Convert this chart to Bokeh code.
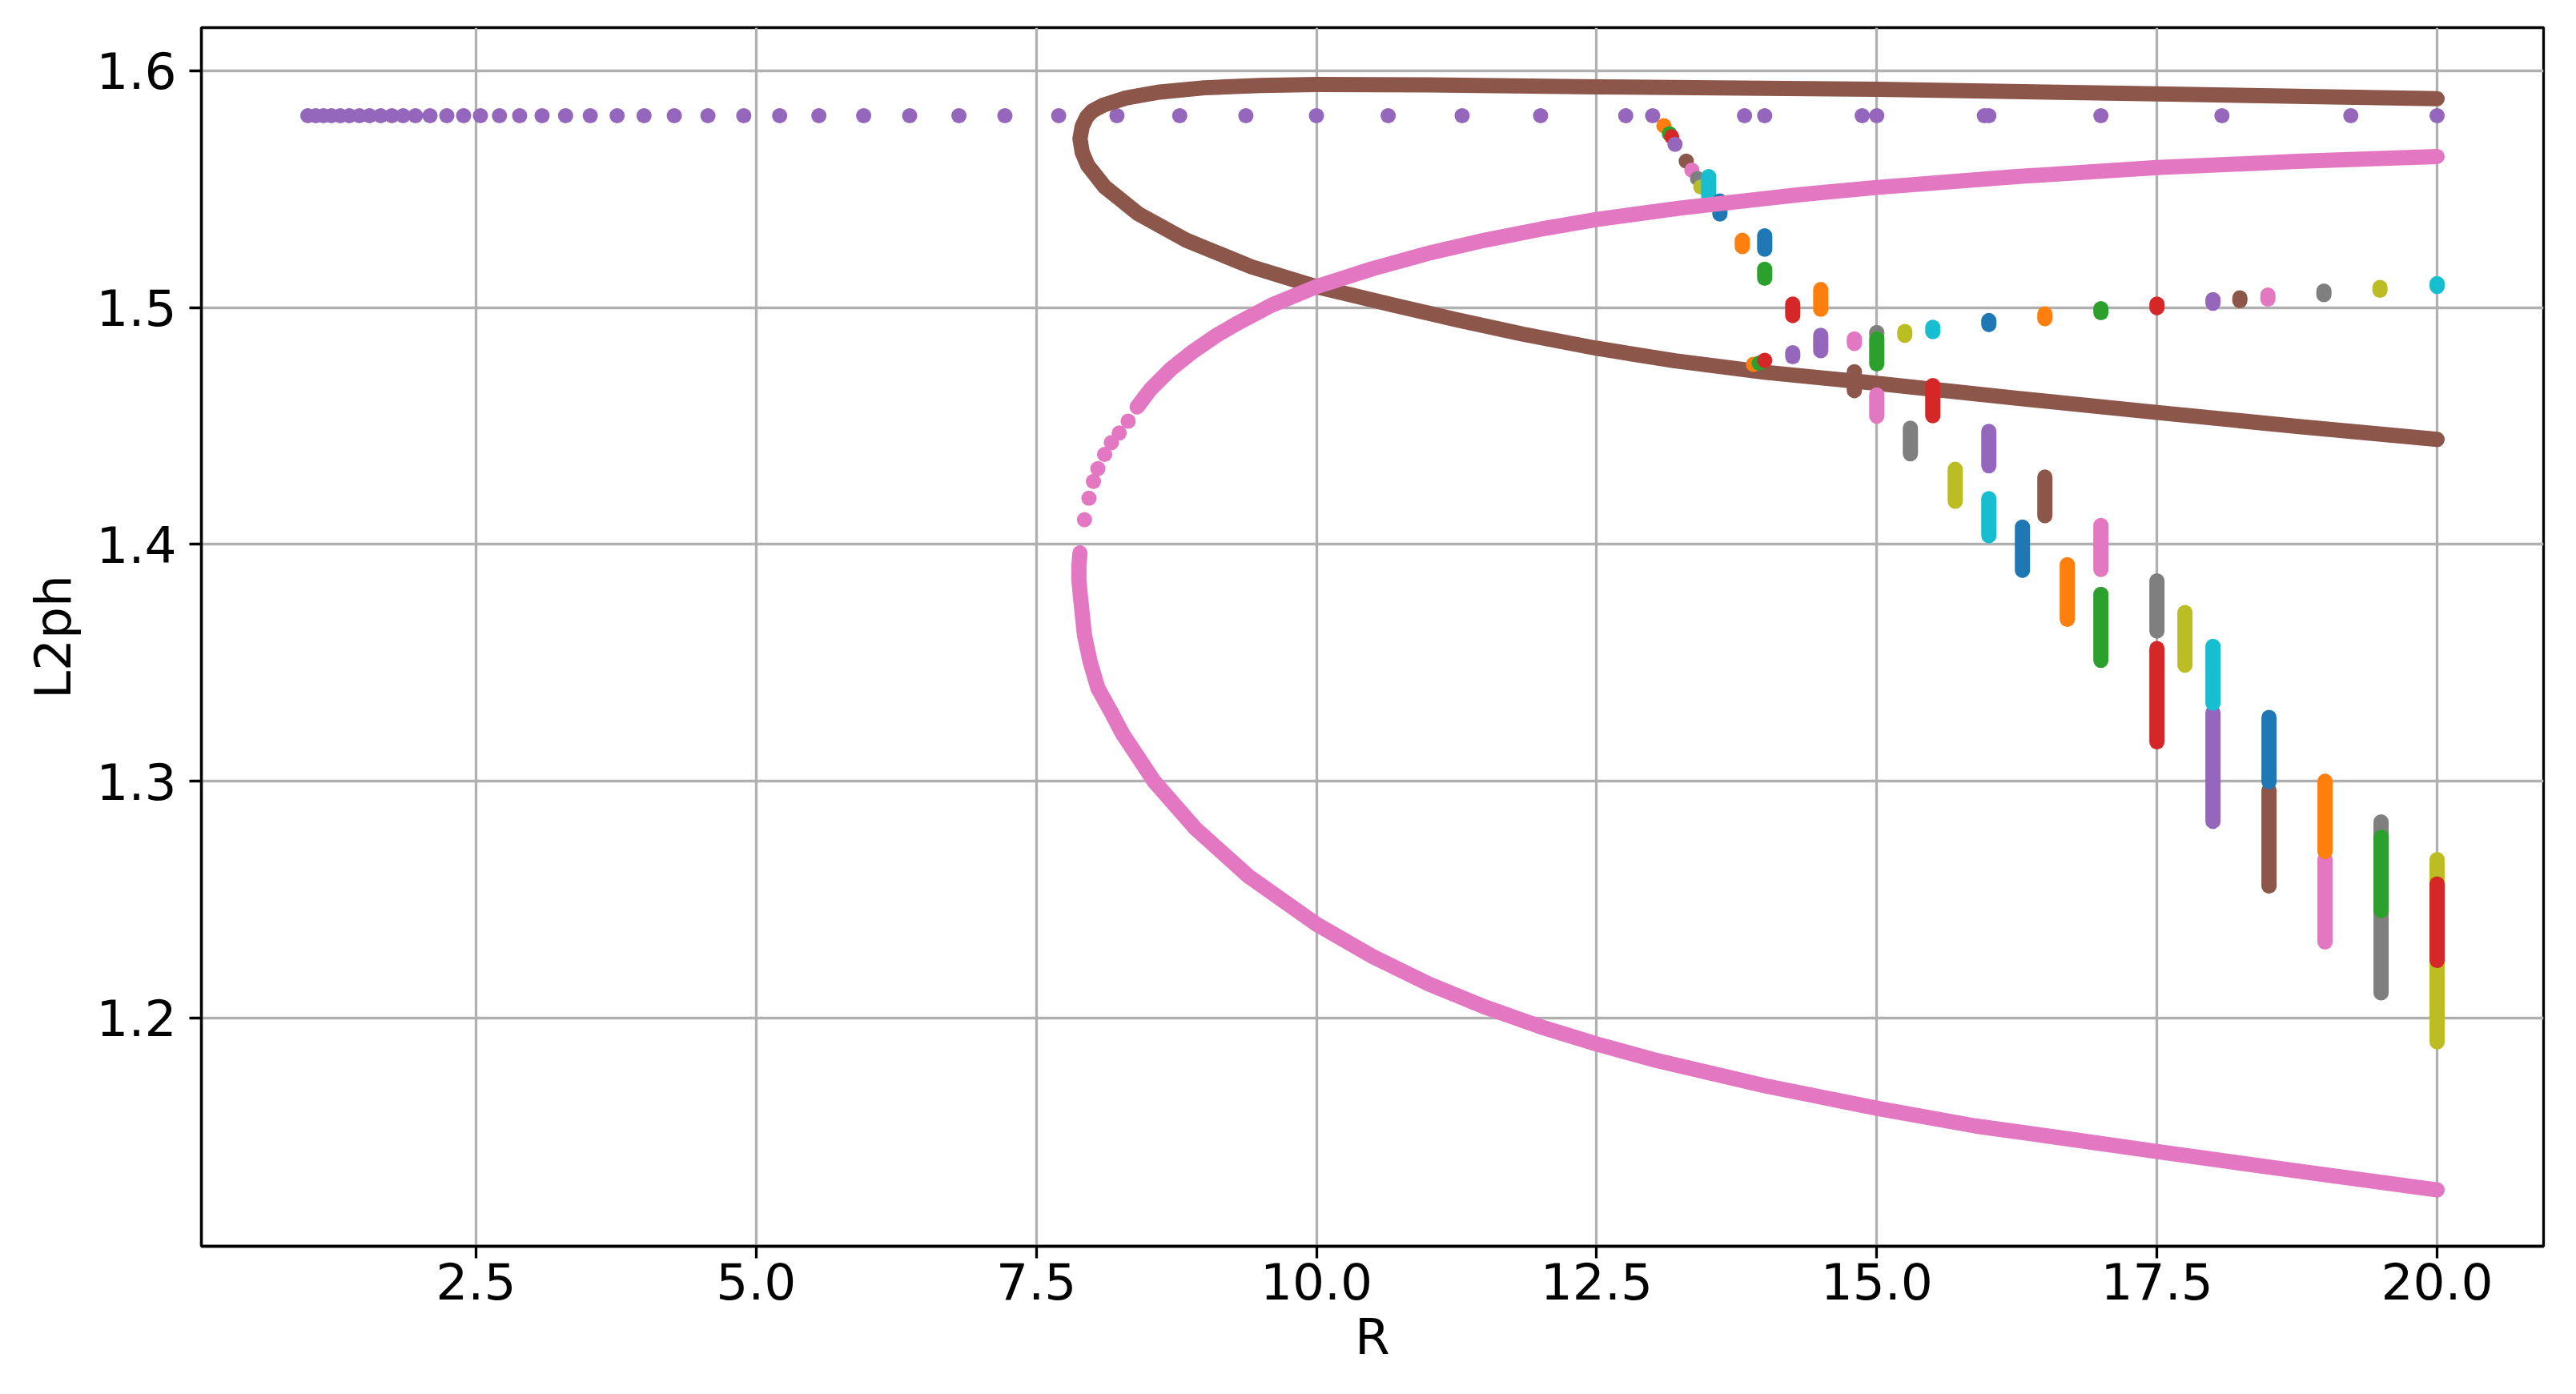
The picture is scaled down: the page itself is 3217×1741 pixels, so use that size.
from bokeh.plotting import figure
from bokeh.models import ColumnDataSource, FixedTicker, NumeralTickFormatter, Range1d
from bokeh.embed import file_html
from bokeh.resources import INLINE

C = {"blue": "#1f77b4", "orange": "#ff7f0e", "green": "#2ca02c", "red": "#d62728",
     "purple": "#9467bd", "brown": "#8c564b", "pink": "#e377c2", "gray": "#7f7f7f",
     "olive": "#bcbd22", "cyan": "#17becf"}

# stable branch (purple row)
row_R = [1.00, 1.07, 1.14, 1.21, 1.29, 1.37, 1.46, 1.55, 1.65, 1.75, 1.85, 1.96,
         2.09, 2.24, 2.39, 2.54, 2.71, 2.89, 3.09, 3.30, 3.52, 3.76, 4.00, 4.27,
         4.57, 4.89, 5.21, 5.56, 5.96, 6.37, 6.81, 7.22, 7.70, 8.22, 8.78, 9.37,
         10.00, 10.64, 11.30, 12.00, 12.76, 13.00, 13.82, 14.00, 14.87, 15.00,
         15.96, 16.00, 17.00, 18.08, 19.23, 20.00]
row_L = [1.581] * len(row_R)

# brown closed-loop branch
brown_R = [20.0, 17.5, 15.0, 12.5, 11.0, 10.0, 9.5, 9.0, 8.6, 8.3, 8.1, 8.0, 7.95,
           7.91, 7.89, 7.91, 7.96, 8.11, 8.41, 8.84, 9.42, 10.0, 10.71, 11.24, 11.84,
           12.5, 13.2, 14.0, 15.0, 16.25, 17.5, 18.75, 20.0]
brown_L = [1.5882, 1.5902, 1.5922, 1.5932, 1.5940, 1.5942, 1.5938, 1.5928, 1.5910,
           1.5885, 1.5855, 1.5830, 1.5805, 1.5765, 1.5713, 1.5655, 1.5600, 1.5510,
           1.5396, 1.5284, 1.5172, 1.5088, 1.5008, 1.4950, 1.4888, 1.4828, 1.4775,
           1.4727, 1.4680, 1.4617, 1.4557, 1.4498, 1.4443]

# pink branch: upper part, sparse points near the turn, lower part
pink_up_R = [20.0, 18.75, 17.5, 16.25, 15.0, 14.34, 13.26, 12.5, 12.0, 11.5, 11.0,
             10.5, 10.0, 9.6, 9.3, 9.1, 8.9, 8.7, 8.52, 8.40]
pink_up_L = [1.5638, 1.5617, 1.5591, 1.5553, 1.5507, 1.5478, 1.5421, 1.5372, 1.5331,
             1.5284, 1.5229, 1.5164, 1.5088, 1.5010, 1.4935, 1.4880, 1.4815, 1.4740,
             1.4655, 1.4580]
pink_sp_R = [8.32, 8.24, 8.17, 8.11, 8.05, 8.01, 7.97, 7.93]
pink_sp_L = [1.452, 1.447, 1.443, 1.438, 1.432, 1.4266, 1.4195, 1.4104]
pink_lo_R = [7.89, 7.88, 7.88, 7.89, 7.91, 7.93, 7.98, 8.05, 8.17, 8.27, 8.55, 8.92,
             9.39, 10.0, 10.5, 11.0, 11.5, 12.0, 12.5, 13.0, 14.0, 15.0, 15.88, 16.7,
             17.5, 18.75, 20.0]
pink_lo_L = [1.3964, 1.3908, 1.3852, 1.3800, 1.3707, 1.3617, 1.3505, 1.3392, 1.3290,
             1.3200, 1.3000, 1.2800, 1.2600, 1.2396, 1.2260, 1.2144, 1.2047, 1.1963,
             1.1890, 1.1825, 1.1714, 1.1619, 1.1544, 1.1490, 1.1436, 1.1354, 1.1274]

# single-point attractors (colour cycle)
dot_R = [13.10, 13.15, 13.17, 13.20, 13.30, 13.35, 13.40, 13.43, 13.90, 13.95, 14.00]
dot_L = [1.5768, 1.5734, 1.5721, 1.5689, 1.5618, 1.5580, 1.5545, 1.5509, 1.4760,
         1.4765, 1.4777]
dot_c = ["orange", "green", "red", "purple", "brown", "pink", "gray", "olive",
         "orange", "green", "red"]

# vertical spreads of the periodic / chaotic attractors
bar_R = [13.50, 13.60, 13.80, 14.00, 14.00, 14.25, 14.50, 14.25, 14.50, 14.80, 14.80,
         15.00, 15.00, 15.00, 15.25, 15.50, 15.50, 15.30, 15.70, 16.00, 16.00, 16.00,
         16.30, 16.50, 16.50, 16.70, 17.00, 17.00, 17.00, 17.50, 17.50, 17.50, 17.75,
         18.00, 18.00, 18.00, 18.24, 18.49, 18.50, 18.50, 18.99, 19.00, 19.00, 19.49,
         19.50, 19.50, 20.00, 20.00, 20.00]
bar_hi = [1.5553, 1.5450, 1.5284, 1.5303, 1.5162, 1.5015, 1.5076, 1.4809, 1.4883,
          1.4868, 1.4729, 1.4895, 1.4868, 1.4631, 1.4899, 1.4917, 1.4671, 1.4491,
          1.4317, 1.4945, 1.4477, 1.4193, 1.4073, 1.4973, 1.4284, 1.3914, 1.4995,
          1.4080, 1.3789, 1.5015, 1.3846, 1.3560, 1.3712, 1.5033, 1.3290, 1.3569,
          1.5041, 1.5053, 1.2962, 1.3269, 1.5070, 1.2669, 1.3000, 1.5085, 1.2828,
          1.2764, 1.5101, 1.2669, 1.2566]
bar_lo = [1.5470, 1.5395, 1.5257, 1.5246, 1.5124, 1.4966, 1.4993, 1.4792, 1.4818,
          1.4848, 1.4649, 1.4885, 1.4762, 1.4541, 1.4883, 1.4898, 1.4543, 1.4382,
          1.4182, 1.4928, 1.4332, 1.4037, 1.3890, 1.4953, 1.4121, 1.3683, 1.4978,
          1.3894, 1.3510, 1.4999, 1.3634, 1.3166, 1.3490, 1.5018, 1.2830, 1.3329,
          1.5029, 1.5036, 1.2557, 1.2998, 1.5054, 1.2321, 1.2703, 1.5073, 1.2106,
          1.2453, 1.5089, 1.1899, 1.2243]
bar_c = ["cyan", "blue", "orange", "blue", "green", "red", "orange", "purple", "purple",
         "pink", "brown", "gray", "green", "pink", "olive", "cyan", "red", "gray",
         "olive", "blue", "purple", "cyan", "blue", "orange", "brown", "orange", "green",
         "pink", "green", "red", "gray", "red", "olive", "purple", "purple", "cyan",
         "brown", "pink", "brown", "blue", "gray", "pink", "orange", "olive", "gray",
         "green", "cyan", "olive", "red"]

x_ticks = [2.5, 5.0, 7.5, 10.0, 12.5, 15.0, 17.5, 20.0]
y_ticks = [1.2, 1.3, 1.4, 1.5, 1.6]

MS = 19
FONT = "DejaVu Sans"
FS = "63px"

p = figure(width=3210, height=1735, output_backend="svg", toolbar_location=None,
           x_range=Range1d(0.05, 20.95), y_range=Range1d(1.1036, 1.6182),
           min_border_left=251, min_border_right=34, min_border_top=34,
           min_border_bottom=179, background_fill_color="white",
           border_fill_color="white")

p.outline_line_color = "black"
p.outline_line_width = 3.3

for ax in (p.xaxis[0], p.yaxis[0]):
    ax.axis_line_width = 3.3
    ax.major_tick_line_width = 3.3
    ax.major_tick_out = 15
    ax.major_tick_in = 0
    ax.minor_tick_line_color = None
    ax.major_label_text_font = FONT
    ax.major_label_text_font_size = FS
    ax.major_label_text_color = "black"
    ax.axis_label_text_font = FONT
    ax.axis_label_text_font_size = FS
    ax.axis_label_text_font_style = "normal"
    ax.axis_label_text_color = "black"
    ax.formatter = NumeralTickFormatter(format="0.0")

p.xaxis.ticker = FixedTicker(ticks=x_ticks)
p.yaxis.ticker = FixedTicker(ticks=y_ticks)
p.xaxis.axis_label = "R"
p.yaxis.axis_label = "L2ph"
p.xaxis.major_label_standoff = 5
p.yaxis.major_label_standoff = 16
p.xaxis.axis_label_standoff = 7
p.yaxis.axis_label_standoff = 14

p.grid.grid_line_color = "#b0b0b0"
p.grid.grid_line_width = 3.3

# stable row
p.scatter(row_R, row_L, size=MS, color=C["purple"], line_color=None)

# brown loop
p.line(brown_R, brown_L, line_width=MS, color=C["brown"], line_cap="round",
       line_join="round")

# dots
dsrc = ColumnDataSource(dict(x=dot_R, y=dot_L, c=[C[k] for k in dot_c]))
p.scatter("x", "y", source=dsrc, size=MS, fill_color="c", line_color=None)

# bars
bsrc = ColumnDataSource(dict(x=bar_R, lo=bar_lo, hi=bar_hi, c=[C[k] for k in bar_c]))
p.segment(x0="x", y0="lo", x1="x", y1="hi", source=bsrc, line_color="c",
          line_width=MS, line_cap="round")

# pink branch
p.line(pink_up_R, pink_up_L, line_width=MS, color=C["pink"], line_cap="round",
       line_join="round")
p.scatter(pink_sp_R, pink_sp_L, size=MS, color=C["pink"], line_color=None)
p.line(pink_lo_R, pink_lo_L, line_width=MS, color=C["pink"], line_cap="round",
       line_join="round")

open("out.html", "w").write(file_html(p, INLINE))
